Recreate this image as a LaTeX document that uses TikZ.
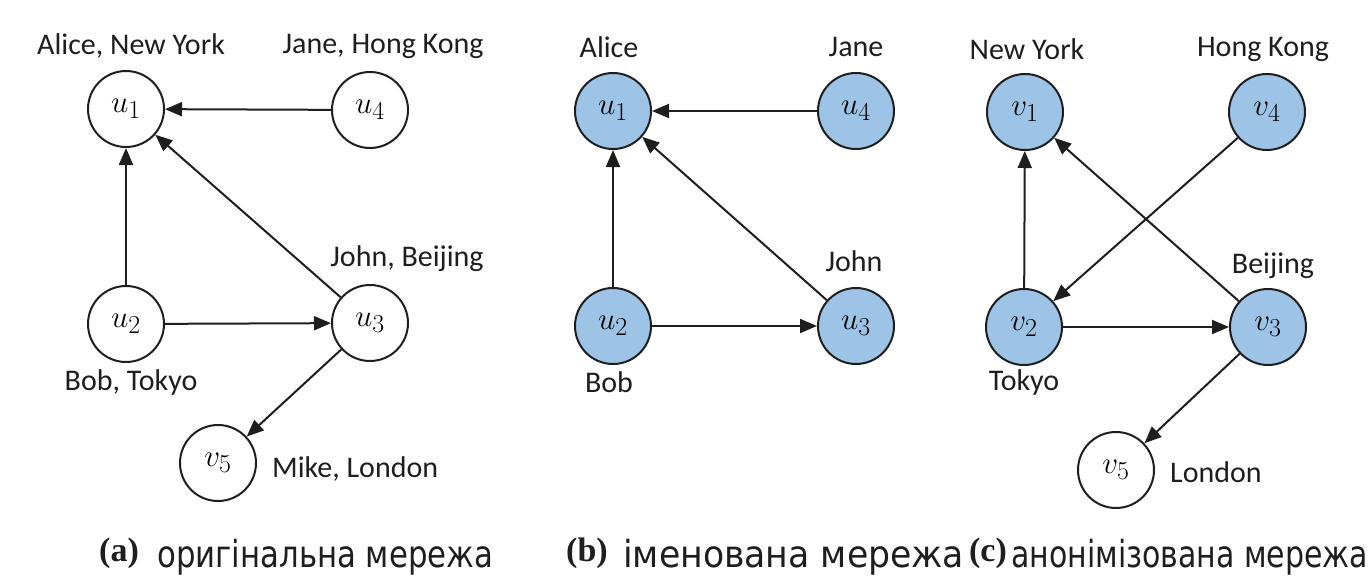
\documentclass[tikz,border=0pt]{standalone}
\usepackage{fontspec}
\setmainfont{Carlito}
\newfontfamily\capfont{DejaVu Sans}
\newfontfamily\capserif{Liberation Serif}
\usetikzlibrary{arrows.meta}
\definecolor{nodeblue}{HTML}{9DC3E6}
\definecolor{txt}{HTML}{1E1E1E}
\newcommand\vm[1]{\scalebox{1.25}{$#1$}}
\begin{document}
\begin{tikzpicture}[x=1pt,y=-1pt,
  vtx/.style={circle,draw=txt,line width=2pt,minimum size=76pt,inner sep=0pt,font=\Huge},
  bluev/.style={vtx,fill=nodeblue},
  lbl/.style={font=\fontsize{30}{30}\selectfont,inner sep=0pt,text=txt},
  edge/.style={draw=txt,line width=2pt,-{Triangle[length=17pt,width=14pt]}},
  capl/.style={font=\capserif\bfseries\fontsize{34}{34}\selectfont,inner sep=0pt,text=txt},
  capt/.style={font=\capfont,inner sep=0pt,anchor=west,text=txt}]
\useasboundingbox (0,0) rectangle (1371,581);
% (a)
\node[vtx] (a1) at (126,109) {\vm{u_1}};
\node[vtx] (a4) at (370,110) {\vm{u_4}};
\node[vtx] (a2) at (126,324) {\vm{u_2}};
\node[vtx] (a3) at (370,323) {\vm{u_3}};
\node[vtx] (a5) at (218,463) {\vm{v_5}};
\node[lbl] (la1) at (131,46) {Alice, New York};
\node[lbl] (la4) at (383,46) {Jane, Hong Kong};
\node[lbl] (la3) at (407,259) {John, Beijing};
\node[lbl] (la2) at (131,382) {Bob, Tokyo};
\node[lbl,anchor=west] (la5) at (272,469) {Mike, London};
\draw[edge] (a4) -- (a1);
\draw[edge] (a2) -- (a1);
\draw[edge] (a3) -- (a1);
\draw[edge] (a2) -- (a3);
\draw[edge] (a3) -- (a5);
% (b)
\node[bluev] (b1) at (613,111) {\vm{u_1}};
\node[bluev] (b4) at (856,111) {\vm{u_4}};
\node[bluev] (b2) at (613,326) {\vm{u_2}};
\node[bluev] (b3) at (856,326) {\vm{u_3}};
\node[lbl] (lb1) at (609,47) {Alice};
\node[lbl] (lb4) at (856,47) {Jane};
\node[lbl] (lb3) at (854,261) {John};
\node[lbl] (lb2) at (609,382) {Bob};
\draw[edge] (b4) -- (b1);
\draw[edge] (b2) -- (b1);
\draw[edge] (b3) -- (b1);
\draw[edge] (b2) -- (b3);
% (c)
\node[bluev] (c1) at (1025,112) {\vm{v_1}};
\node[bluev] (c4) at (1267,112) {\vm{v_4}};
\node[bluev] (c2) at (1024,327) {\vm{v_2}};
\node[bluev] (c3) at (1268,327) {\vm{v_3}};
\node[vtx] (c5) at (1116,470) {\vm{v_5}};
\node[lbl] (lc1) at (1027,49) {New York};
\node[lbl] (lc4) at (1263,49) {Hong Kong};
\node[lbl] (lc3) at (1273,266) {Beijing};
\node[lbl] (lc2) at (1024,382) {Tokyo};
\node[lbl,anchor=west] (lc5) at (1170,472) {London};
\draw[edge] (c2) -- (c1);
\draw[edge] (c3) -- (c1);
\draw[edge] (c4) -- (c2);
\draw[edge] (c2) -- (c3);
\draw[edge] (c3) -- (c5);
% captions
\node[capl] (ca) at (119,553) {(a)};
\node[capt] (cat) at (157,557) {\resizebox*{336pt}{36pt}{оригінальна мережа}};
\node[capl] (cb) at (587,553) {(b)};
\node[capt] (cbt) at (623,557) {\resizebox*{341pt}{36pt}{іменована мережа}};
\node[capl] (cc) at (988,553) {(c)};
\node[capt] (cct) at (1011,557) {\resizebox*{357pt}{36pt}{анонімізована мережа}};
\end{tikzpicture}
\end{document}
